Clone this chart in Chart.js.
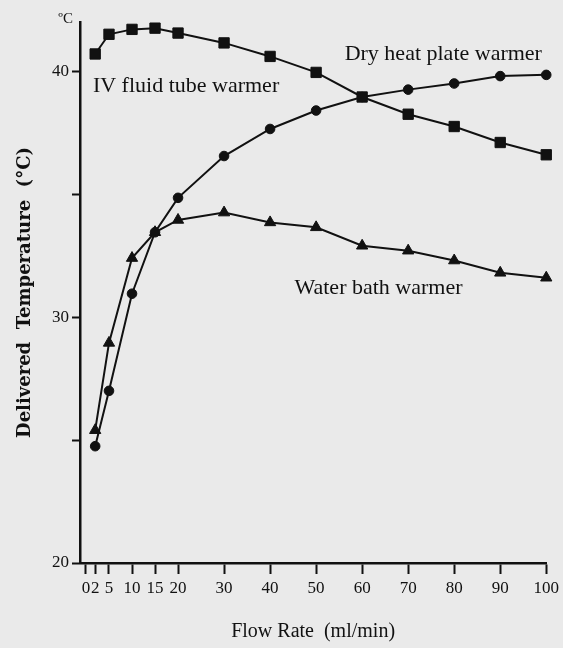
<!DOCTYPE html>
<html>
<head>
<meta charset="utf-8">
<script src="https://cdn.jsdelivr.net/npm/chart.js@4"></script>
<style>
  html, body { margin: 0; padding: 0; background: #eaeaea; }
  #wrap { width: 563px; height: 648px; }
</style>
</head>
<body>
<div id="wrap"><canvas id="chart"></canvas></div>
<script>
// Data
const flowRates = [2, 5, 10, 15, 20, 30, 40, 50, 60, 70, 80, 90, 100];
const ivTube    = [40.7, 41.5, 41.7, 41.75, 41.55, 41.15, 40.6, 39.95, 38.95, 38.25, 37.75, 37.1, 36.6];
const dryHeat   = [24.75, 27.0, 30.95, 33.45, 34.85, 36.55, 37.65, 38.4, 38.95, 39.25, 39.5, 39.8, 39.85];
const waterBath = [25.4, 28.95, 32.4, 33.45, 33.95, 34.25, 33.85, 33.65, 32.9, 32.7, 32.3, 31.8, 31.6];

const xTicks = [0, 2, 5, 10, 15, 20, 30, 40, 50, 60, 70, 80, 90, 100];
const yTicks = [20, 25, 30, 35, 40];
const yLabelled = [20, 30, 40];

// Curve labels: [text, x, y] in data units
const curveLabels = [
    ['IV fluid tube warmer', 1.5, 39.15],
    ['Dry heat plate warmer', 56.2, 40.45],
    ['Water bath warmer', 45.3, 30.95]
];

const SERIF = '"Liberation Serif", "DejaVu Serif", serif';
const INK = '#111';

const points = ys => flowRates.map((x, i) => ({ x: x, y: ys[i] }));

const seriesStyle = (style, radius) => ({
    showLine: true,
    clip: false,
    borderColor: INK,
    backgroundColor: INK,
    borderWidth: 2,
    pointStyle: style,
    pointRadius: radius,
    pointBorderWidth: 1,
    tension: 0
});

// Text on the plot: curve names and the unit at the top of the y axis
const labelPlugin = {
    id: 'curveLabels',
    afterDatasetsDraw(chart) {
        const { ctx, scales: { x, y } } = chart;
        ctx.save();
        ctx.fillStyle = INK;
        ctx.font = '22px ' + SERIF;
        ctx.textAlign = 'left';
        ctx.textBaseline = 'alphabetic';
        curveLabels.forEach(([text, dx, dy]) => {
            ctx.fillText(text, x.getPixelForValue(dx), y.getPixelForValue(dy));
        });
        ctx.font = '15px ' + SERIF;
        ctx.textAlign = 'right';
        ctx.fillText('ºC', x.left - 7, y.top + 1);
        ctx.restore();
    }
};

new Chart(document.getElementById('chart'), {
    type: 'scatter',
    data: {
        datasets: [
            { label: 'IV fluid tube warmer', data: points(ivTube), ...seriesStyle('rect', 7.3) },
            { label: 'Dry heat plate warmer', data: points(dryHeat), ...seriesStyle('circle', 4.8) },
            { label: 'Water bath warmer', data: points(waterBath), ...seriesStyle('triangle', 6.5) }
        ]
    },
    options: {
        responsive: true,
        maintainAspectRatio: false,
        animation: false,
        layout: { padding: { top: 22, right: 14, left: 0, bottom: 0 } },
        plugins: {
            legend: { display: false },
            tooltip: { enabled: false }
        },
        scales: {
            x: {
                type: 'linear',
                min: -1.3,
                max: 100,
                afterBuildTicks: s => { s.ticks = xTicks.map(v => ({ value: v })); },
                afterFit: s => { s.height = 85; },
                border: { display: true, color: INK, width: 2.5 },
                grid: { drawOnChartArea: false, drawTicks: true, tickLength: 11, tickWidth: 2, color: INK },
                ticks: {
                    autoSkip: false,
                    maxRotation: 0,
                    padding: 4,
                    color: INK,
                    font: { family: SERIF, size: 17 }
                },
                title: {
                    display: true,
                    text: 'Flow Rate  (ml/min)',
                    color: INK,
                    font: { family: SERIF, size: 20 },
                    padding: { top: 0, bottom: 4 }
                }
            },
            y: {
                min: 20,
                max: 42,
                afterBuildTicks: s => { s.ticks = yTicks.map(v => ({ value: v })); },
                afterFit: s => { s.width = 80; },
                border: { display: true, color: INK, width: 2.5 },
                grid: { drawOnChartArea: false, drawTicks: true, tickLength: 8, tickWidth: 2, color: INK },
                ticks: {
                    padding: 3,
                    color: INK,
                    font: { family: SERIF, size: 17 },
                    callback: v => yLabelled.includes(v) ? v : ''
                },
                title: {
                    display: true,
                    text: 'Delivered  Temperature  (°C)',
                    color: INK,
                    font: { family: '"DejaVu Serif", serif', size: 18, weight: 'bold' },
                    padding: { top: 15, bottom: 0 }
                }
            }
        }
    },
    plugins: [labelPlugin]
});
</script>
</body>
</html>
